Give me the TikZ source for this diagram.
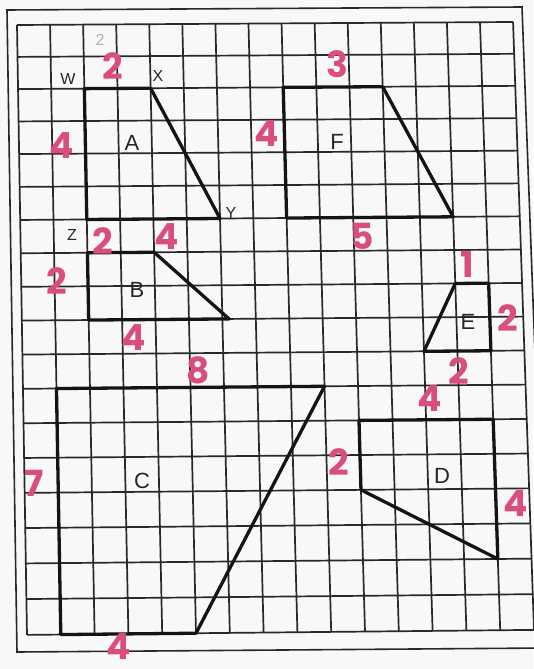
\documentclass[tikz,border=0pt]{standalone}
\usepackage{fontspec}
\setmainfont{Liberation Sans}
\newfontfamily\marker{Poppins}
\definecolor{pinkmark}{RGB}{218,78,124}
\definecolor{paper}{RGB}{248,248,247}
\definecolor{gridc}{RGB}{40,40,40}
\begin{document}
\begin{tikzpicture}[x=1pt,y=-1pt,
  declare function={
    yl(\gr)=25+31.8*\gr+0.1157*\gr*\gr;
    tt(\gr)=(yl(\gr)-25)/610;
    gx(\gc,\gr)=17+10*tt(\gr)+\gc*(33.07+0.73*tt(\gr));
    gy(\gc,\gr)=yl(\gr)+\gc/15*(-3-2*tt(\gr));
  },
  gridline/.style={draw=gridc,line width=1.7pt},
  shapeline/.style={draw=black!92,line width=3.3pt,line join=round,line cap=round},
  num/.style={text=pinkmark,font=\marker\bfseries\fontsize{36}{36}\selectfont,inner sep=0pt},
  vtx/.style={text=black!85,font=\fontsize{16}{16}\selectfont,inner sep=0pt},
  lbl/.style={text=black!85,font=\fontsize{22}{22}\selectfont,inner sep=0pt},
]
\useasboundingbox (0,0) rectangle (533,669);
\fill[paper] (0,0) rectangle (533,669);
% outer border
\coordinate (b1) at (7,10);
\coordinate (b2) at (522,7);
\coordinate (b3) at (546,648);
\coordinate (b4) at (17,652);
\draw[draw=gridc,line width=1.6pt] (b1) -- (b2) -- (b3) -- (b4) -- cycle;
% grid
\foreach \i in {0,...,15}
  \draw[gridline] ({gx(\i,0)},{gy(\i,0)}) -- ({gx(\i,18)},{gy(\i,18)});
\foreach \j in {0,...,18}
  \draw[gridline] ({gx(0,\j)},{gy(0,\j)}) -- ({gx(15,\j)},{gy(15,\j)});
% vertices
\coordinate (W) at ({gx(2,2)},{gy(2,2)});
\coordinate (X) at ({gx(4,2)},{gy(4,2)});
\coordinate (Y) at ({gx(6,6)},{gy(6,6)});
\coordinate (Z) at ({gx(2,6)},{gy(2,6)});
\coordinate (F1) at ({gx(8,2)},{gy(8,2)});
\coordinate (F2) at ({gx(11,2)},{gy(11,2)});
\coordinate (F3) at ({gx(13,6)},{gy(13,6)});
\coordinate (F4) at ({gx(8,6)},{gy(8,6)});
\coordinate (B1) at ({gx(2,7)},{gy(2,7)});
\coordinate (B2) at ({gx(4,7)},{gy(4,7)});
\coordinate (B3) at ({gx(6.2,9)},{gy(6.2,9)});
\coordinate (B4) at ({gx(2,9)},{gy(2,9)});
\coordinate (E1) at ({gx(13,8)},{gy(13,8)});
\coordinate (E2) at ({gx(14,8)},{gy(14,8)});
\coordinate (E3) at ({gx(14,10)},{gy(14,10)});
\coordinate (E4) at ({gx(12,10)},{gy(12,10)});
\coordinate (C1) at ({gx(1,11)},{gy(1,11)});
\coordinate (C2) at ({gx(9,11)},{gy(9,11)});
\coordinate (C3) at ({gx(5,18)},{gy(5,18)});
\coordinate (C4) at ({gx(1,18)},{gy(1,18)});
\coordinate (D1) at ({gx(10,12)},{gy(10,12)});
\coordinate (D2) at ({gx(14,12)},{gy(14,12)});
\coordinate (D3) at ({gx(14,16)},{gy(14,16)});
\coordinate (D4) at ({gx(10,14)},{gy(10,14)});
% shapes
\draw[shapeline] (W) -- (X) -- (Y) -- (Z) -- cycle;
\draw[shapeline] (F1) -- (F2) -- (F3) -- (F4) -- cycle;
\draw[shapeline] (B1) -- (B2) -- (B3) -- (B4) -- cycle;
\draw[shapeline] (E1) -- (E2) -- (E3) -- (E4) -- cycle;
\draw[shapeline] (C1) -- (C2) -- (C3) -- (C4) -- cycle;
\draw[shapeline] (D1) -- (D2) -- (D3) -- (D4) -- cycle;
% vertex letters
\node[vtx] (lW) at (68,79) {W};
\node[vtx] (lX) at (158,76) {X};
\node[vtx] (lY) at (231,213) {Y};
\node[vtx] (lZ) at (72,235) {Z};
% shape letters
\node[lbl] (lA) at (132,143) {A};
\node[lbl] (lF) at (337,142) {F};
\node[lbl] (lB) at (137,290) {B};
\node[lbl] (lE) at (468,322) {E};
\node[lbl] (lC) at (142,481) {C};
\node[lbl] (lD) at (442,476) {D};
% faint pencil number
\node[text=black!30,font=\fontsize{16}{16}\selectfont,inner sep=0pt] (g2) at (100,40) {2};
% pink measurements
\node[num] (nA1) at (113,66) {2};
\node[num] (nA2) at (62,146) {4};
\node[num] (nA3) at (103,241) {2};
\node[num] (nA4) at (167,237) {4};
\node[num] (nF1) at (337,64) {3};
\node[num] (nF2) at (267,134) {4};
\node[num] (nF3) at (362,236) {5};
\node[num] (nB1) at (57,281) {2};
\node[num] (nB2) at (134,338) {4};
\node[num] (nC1) at (198,370) {8};
\node[num] (nC2) at (34,483) {7};
\node[num] (nC3) at (119,647) {4};
\node[num] (nE1) at (467,264) {1};
\node[num] (nE2) at (508,318) {2};
\node[num] (nE3) at (459,371) {2};
\node[num] (nD1) at (430,399) {4};
\node[num] (nD2) at (339,462) {2};
\node[num] (nD3) at (516,504) {4};
\end{tikzpicture}
\end{document}
